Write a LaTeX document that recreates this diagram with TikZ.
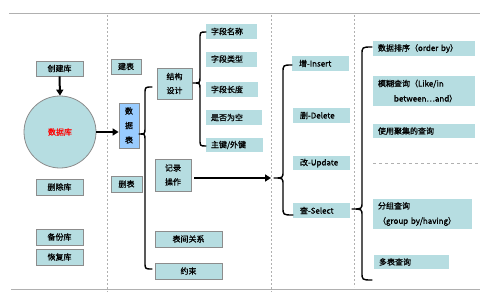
\documentclass[tikz,border=0pt]{standalone}
\usepackage{fontspec}
\setmainfont{Noto Sans CJK SC}[BoldFont={Noto Sans CJK SC}, BoldFeatures={FakeBold=0.9}]
\usetikzlibrary{arrows.meta}
\definecolor{boxfill}{HTML}{B6DDE1}
\definecolor{bluefill}{HTML}{99CCFF}
\definecolor{bordergray}{HTML}{8C8C8C}
\definecolor{linegray}{HTML}{B0B0B0}
\tikzset{
  txt/.style={font=\fontsize{8}{9}\selectfont\bfseries},
  bx/.style={txt, draw=bordergray, fill=boxfill, line width=0.8pt, inner sep=0pt, align=center},
  lb/.style={txt, fill=boxfill, inner ysep=0pt, inner xsep=5pt, align=left},
  arr/.style={line width=2pt, -{Triangle[length=6pt,width=7pt]}},
  brc/.style={line width=1.4pt, line join=round, line cap=round},
  rule/.style={linegray, line width=1pt},
  sep/.style={linegray, line width=0.7pt, dash pattern=on 2pt off 2pt},
}
\begin{document}
\begin{tikzpicture}[x=1pt,y=-1pt]
\useasboundingbox (0,0) rectangle (480,300);
% frame lines
\draw[rule] (9,13) -- (480,13);
\draw[rule] (11,289) -- (480,289);
\draw[sep] (107,15) -- (107,292);
\draw[sep] (271,15) -- (271,292);
\draw[sep] (354,15) -- (354,287);
\draw[sep, dash pattern=on 3pt off 3pt] (373,163) -- (480,163);
% column 1
\node[bx, minimum width=47pt, minimum height=15pt] (cjk) at (59.5,68.5) {创建库};
\node[circle, draw=bordergray, fill=boxfill, line width=0.8pt, minimum size=72pt, inner sep=0pt,
      txt, text=red] (db) at (60,132) {数据库};
\node[bx, minimum width=47pt, minimum height=16pt] (sck) at (59.5,187) {删除库};
\node[bx, minimum width=47pt, minimum height=16pt] (bfk) at (59.5,237) {备份库};
\node[bx, minimum width=47pt, minimum height=16pt] (hfk) at (59.5,257) {恢复库};
% column 2
\node[bx, minimum width=30pt, minimum height=15pt] (jb) at (126,66.5) {建表};
\node[bx, minimum width=31pt, minimum height=16pt] (sb) at (126.5,184) {删表};
\node[bx, fill=bluefill, minimum width=20pt, minimum height=45pt,
      font=\fontsize{8}{14.5}\selectfont\bfseries] (sjb) at (129,125.5) {数\\据\\表};
\node[bx, minimum width=35pt, minimum height=31pt,
      font=\fontsize{8}{14}\selectfont\bfseries] (jgsj) at (174.5,83.5) {结构\\设计};
\node[bx, minimum width=36pt, minimum height=32pt,
      font=\fontsize{8}{14}\selectfont\bfseries] (jlcz) at (173,175) {记录\\操作};
\node[bx, minimum width=67pt, minimum height=16pt] (bjgx) at (188.5,239) {表间关系};
\node[bx, minimum width=67pt, minimum height=16pt] (ys) at (188.5,271) {约束};
% fields
\node[lb, text width=41pt, minimum height=15pt] (f1) at (231.5,31.5) {字段名称};
\node[lb, text width=41pt, minimum height=15pt] (f2) at (231.5,59) {字段类型};
\node[lb, text width=42pt, minimum height=15pt] (f3) at (232,89.5) {字段长度};
\node[lb, text width=46pt, minimum height=15pt] (f4) at (234,117.5) {是否为空};
\node[lb, text width=47pt, minimum height=14pt] (f5) at (234.5,145) {主键/外键};
% CRUD
\node[lb, inner xsep=7pt, text width=43pt, minimum height=15pt] (ins) at (320.5,63.5) {增-Insert};
\node[lb, inner xsep=7pt, text width=43pt, minimum height=15pt] (del) at (321.5,115.5) {删-Delete};
\node[lb, inner xsep=7pt, text width=43pt, minimum height=14pt] (upd) at (321.5,163) {改-Update};
\node[lb, inner xsep=7pt, text width=43pt, minimum height=15pt] (sel) at (321.5,210.5) {查-Select};
% queries
\node[lb, text width=92pt, minimum height=15pt] (q1) at (424,48.5) {数据排序（order by）};
\node[lb, text width=92pt, minimum height=30pt, font=\fontsize{8}{15}\selectfont\bfseries] (q2) at (424,91)
  {模糊查询（Like/in\\\hspace*{16pt}between…and）};
\node[lb, text width=92pt, minimum height=14pt] (q3) at (424,131) {使用聚集的查询};
\node[lb, text width=89pt, minimum height=30pt, font=\fontsize{8}{15}\selectfont\bfseries] (q4) at (422.5,214)
  {分组查询\\（group by/having）};
\node[lb, text width=65pt, minimum height=14pt] (q5) at (411.5,262) {多表查询};
% braces
\draw[brc] (152,87) .. controls (145,87) .. (145,94) -- (145,128) .. controls (145,134) .. (139,134)
  .. controls (145,134) .. (145,140) -- (145,262) .. controls (145,269) .. (152,269);
\draw[brc] (206,32) .. controls (200,32) .. (200,39) -- (200,77) .. controls (200,83) .. (193,83)
  .. controls (200,83) .. (200,89) -- (200,139) .. controls (200,146) .. (206,146);
\draw[brc] (292,65) .. controls (283,65) .. (283,73) -- (283,171) .. controls (283,178) .. (274,178)
  .. controls (283,178) .. (283,185) -- (283,207) .. controls (283,215) .. (293,215);
\draw[brc] (372,47) .. controls (362,47) .. (362,55) -- (362,202) .. controls (362,209) .. (352,209)
  .. controls (362,209) .. (362,216) -- (362,272) .. controls (362,280) .. (372,280);
\coordinate (crudtip) at (271,178);
% arrows
\draw[arr] (cjk.south) -- (db.north);
\draw[arr] (db.east) -- (db.east -| sjb.west);
\draw[arr] ([xshift=3pt]jlcz.east |- crudtip) -- (crudtip);
\end{tikzpicture}
\end{document}
